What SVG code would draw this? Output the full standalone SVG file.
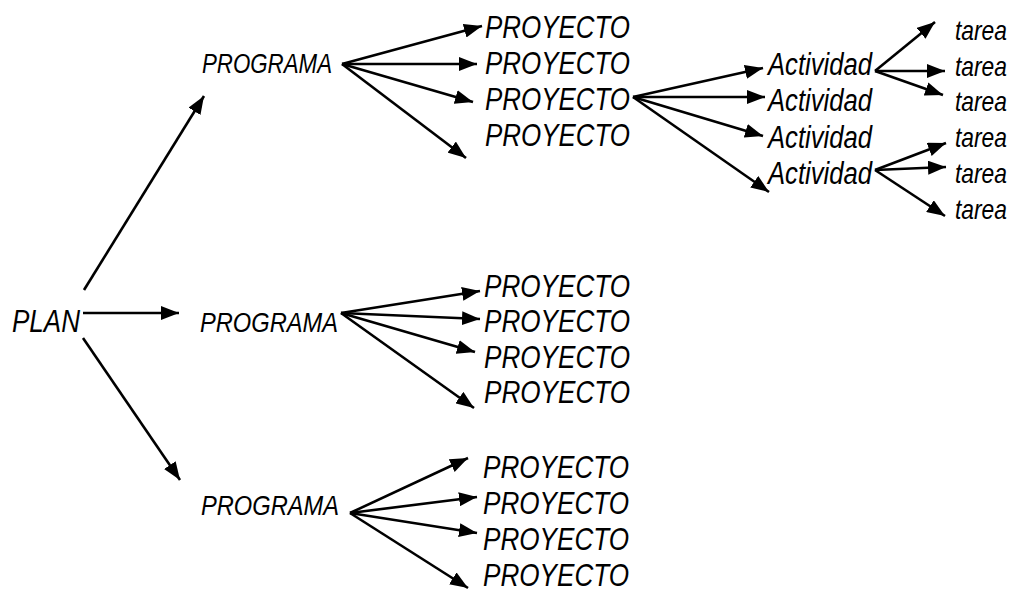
<svg xmlns="http://www.w3.org/2000/svg" width="1018" height="592" viewBox="0 0 1018 592">
<style>
text{font-family:"Liberation Sans Narrow","Liberation Sans",Arial,sans-serif;font-style:italic;fill:#000}
.big{font-size:31px}
.prog{font-size:28px}
.tar{font-size:28px}
#connectors line{stroke:#000;stroke-width:2.6;marker-end:url(#ah)}
</style>
<defs>
<marker id="ah" viewBox="0 0 18 14" refX="18" refY="7" markerWidth="18" markerHeight="14" markerUnits="userSpaceOnUse" orient="auto">
<path d="M0,0 L18,7 L0,14 z" fill="#000"/>
</marker>
</defs>
<rect width="1018" height="592" fill="#fff"/>
<g id="connectors">
<line x1="84" y1="290" x2="204" y2="96"/>
<line x1="83" y1="313" x2="179" y2="313"/>
<line x1="83" y1="338" x2="180" y2="480"/>
<line x1="342" y1="64" x2="482" y2="26"/>
<line x1="342" y1="64" x2="477" y2="64"/>
<line x1="342" y1="64" x2="473" y2="102"/>
<line x1="342" y1="64" x2="466" y2="158"/>
<line x1="341" y1="313" x2="480" y2="291"/>
<line x1="341" y1="313" x2="480" y2="319"/>
<line x1="341" y1="313" x2="475" y2="352"/>
<line x1="341" y1="313" x2="474" y2="408"/>
<line x1="350" y1="513" x2="468" y2="458"/>
<line x1="350" y1="513" x2="477" y2="497"/>
<line x1="350" y1="513" x2="477" y2="533"/>
<line x1="350" y1="513" x2="468" y2="588"/>
<line x1="633" y1="97" x2="763" y2="68"/>
<line x1="633" y1="97" x2="765" y2="97"/>
<line x1="633" y1="97" x2="763" y2="136"/>
<line x1="633" y1="97" x2="769" y2="192"/>
<line x1="875" y1="71" x2="935" y2="22"/>
<line x1="875" y1="71" x2="945" y2="71"/>
<line x1="875" y1="71" x2="943" y2="95"/>
<line x1="875" y1="170" x2="946" y2="143"/>
<line x1="875" y1="170" x2="946" y2="167"/>
<line x1="875" y1="170" x2="945" y2="216"/>
</g>
<g id="plan"><text class="big" x="12" y="332" textLength="68" lengthAdjust="spacingAndGlyphs">PLAN</text></g>
<g id="programa1"><text class="prog" x="202" y="73" textLength="130" lengthAdjust="spacingAndGlyphs">PROGRAMA</text></g>
<g id="programa2"><text class="prog" x="200" y="332" textLength="138" lengthAdjust="spacingAndGlyphs">PROGRAMA</text></g>
<g id="programa3"><text class="prog" x="201" y="515" textLength="138" lengthAdjust="spacingAndGlyphs">PROGRAMA</text></g>
<g id="proyecto1-1"><text class="big" x="485" y="38" textLength="145" lengthAdjust="spacingAndGlyphs">PROYECTO</text></g>
<g id="proyecto1-2"><text class="big" x="485" y="74" textLength="145" lengthAdjust="spacingAndGlyphs">PROYECTO</text></g>
<g id="proyecto1-3"><text class="big" x="485" y="110" textLength="145" lengthAdjust="spacingAndGlyphs">PROYECTO</text></g>
<g id="proyecto1-4"><text class="big" x="485" y="146" textLength="145" lengthAdjust="spacingAndGlyphs">PROYECTO</text></g>
<g id="proyecto2-1"><text class="big" x="484" y="297" textLength="146" lengthAdjust="spacingAndGlyphs">PROYECTO</text></g>
<g id="proyecto2-2"><text class="big" x="484" y="332" textLength="146" lengthAdjust="spacingAndGlyphs">PROYECTO</text></g>
<g id="proyecto2-3"><text class="big" x="484" y="368" textLength="146" lengthAdjust="spacingAndGlyphs">PROYECTO</text></g>
<g id="proyecto2-4"><text class="big" x="484" y="403" textLength="146" lengthAdjust="spacingAndGlyphs">PROYECTO</text></g>
<g id="proyecto3-1"><text class="big" x="483" y="478" textLength="146" lengthAdjust="spacingAndGlyphs">PROYECTO</text></g>
<g id="proyecto3-2"><text class="big" x="483" y="514" textLength="146" lengthAdjust="spacingAndGlyphs">PROYECTO</text></g>
<g id="proyecto3-3"><text class="big" x="483" y="550" textLength="146" lengthAdjust="spacingAndGlyphs">PROYECTO</text></g>
<g id="proyecto3-4"><text class="big" x="483" y="586" textLength="146" lengthAdjust="spacingAndGlyphs">PROYECTO</text></g>
<g id="actividad1"><text class="big" x="768" y="75" textLength="104" lengthAdjust="spacingAndGlyphs">Actividad</text></g>
<g id="actividad2"><text class="big" x="768" y="111" textLength="104" lengthAdjust="spacingAndGlyphs">Actividad</text></g>
<g id="actividad3"><text class="big" x="768" y="148" textLength="104" lengthAdjust="spacingAndGlyphs">Actividad</text></g>
<g id="actividad4"><text class="big" x="768" y="184" textLength="104" lengthAdjust="spacingAndGlyphs">Actividad</text></g>
<g id="tarea1"><text class="tar" x="955" y="40" textLength="52" lengthAdjust="spacingAndGlyphs">tarea</text></g>
<g id="tarea2"><text class="tar" x="955" y="76" textLength="52" lengthAdjust="spacingAndGlyphs">tarea</text></g>
<g id="tarea3"><text class="tar" x="955" y="111" textLength="52" lengthAdjust="spacingAndGlyphs">tarea</text></g>
<g id="tarea4"><text class="tar" x="955" y="147" textLength="52" lengthAdjust="spacingAndGlyphs">tarea</text></g>
<g id="tarea5"><text class="tar" x="955" y="183" textLength="52" lengthAdjust="spacingAndGlyphs">tarea</text></g>
<g id="tarea6"><text class="tar" x="955" y="219" textLength="52" lengthAdjust="spacingAndGlyphs">tarea</text></g>
</svg>
